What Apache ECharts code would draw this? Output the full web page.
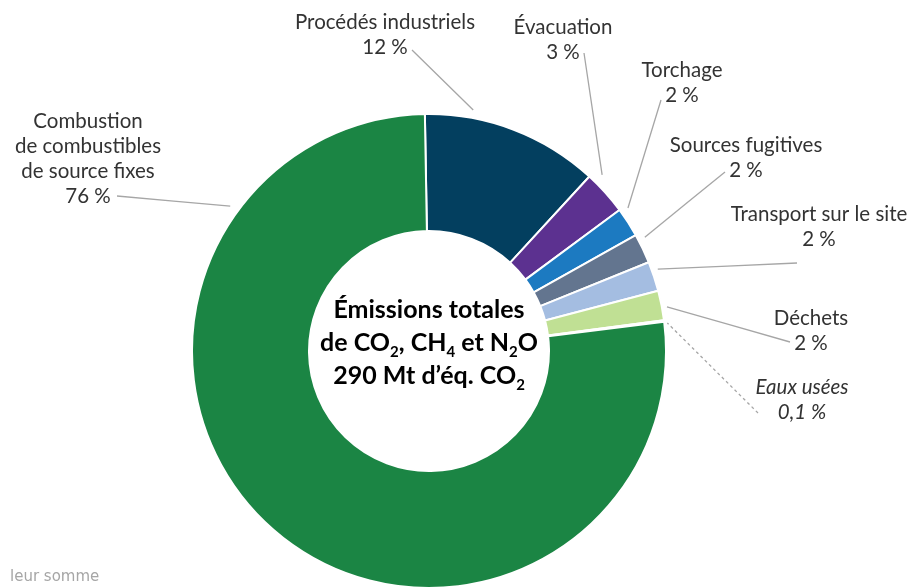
<!DOCTYPE html>
<html>
<head>
<meta charset="utf-8">
<script src="https://cdn.jsdelivr.net/npm/echarts@6/dist/echarts.min.js"></script>
<style>
  html, body { margin: 0; padding: 0; background: #ffffff; }
  #chart { width: 914px; height: 588px; }
</style>
</head>
<body>
<div id="chart"></div>
<script>
// Emission sources, clockwise from 12 o'clock
const categories = [
  'Procédés industriels',
  'Évacuation',
  'Torchage',
  'Sources fugitives',
  'Transport sur le site',
  'Déchets',
  'Eaux usées',
  'Combustion\nde combustibles\nde source fixes'
];
// Share of total emissions (%)
const shares = [12, 3, 2, 2, 2, 2, 0.1, 76];

const sliceColors = ['#033f5f', '#5c3190', '#1c7ac1', '#63758f', '#a4bde1', '#c0e094', '#8c8c8c', '#1b8544'];

// Ring geometry (px)
const CENTER = [429, 351];
const RADIUS = [120, 237];

// Label placement: block centre, leader start near the text, leader angle (deg clockwise from top) and gap off the ring
const labelSpots = [
  { x: 385, y: 35,  from: [412, 50],  angle: 10.4,  gap: 8 },
  { x: 563, y: 40,  from: [584, 53],  angle: 44.5,  gap: 10 },
  { x: 682, y: 83,  from: [661, 100], angle: 54.3,  gap: 8 },
  { x: 746, y: 158, from: [725, 172], angle: 62.2,  gap: 7 },
  { x: 819, y: 227, from: [797, 263], angle: 70.3,  gap: 6 },
  { x: 811, y: 331, from: [790, 342], angle: 79.5,  gap: 5 },
  { x: 802, y: 400, from: [758, 413], angle: 83.3,  gap: 3 },
  { x: 88,  y: 159, from: [117, 196], angle: 306.1, gap: 9 }
];

const FONT = 'Lato';

function pctText(v) {
  return String(v).replace('.', ',') + ' %';
}

const data = categories.map((name, i) => {
  const item = { name: name, value: shares[i], itemStyle: { color: sliceColors[i] } };
  if (name === 'Eaux usées') {
    item.label = { fontStyle: 'italic' };
    item.labelLine = { lineStyle: { type: [3, 3] } };
  }
  return item;
});

const chart = echarts.init(document.getElementById('chart'), null, { renderer: 'canvas' });

chart.setOption({
  backgroundColor: '#ffffff',
  animation: false,
  series: [{
    type: 'pie',
    center: CENTER,
    radius: RADIUS,
    startAngle: 91,
    clockwise: true,
    avoidLabelOverlap: false,
    silent: true,
    itemStyle: { borderColor: '#ffffff', borderWidth: 2 },
    label: {
      show: true,
      position: 'outside',
      fontFamily: FONT,
      fontSize: 20.5,
      lineHeight: 25,
      color: '#333333',
      formatter: p => p.name + '\n' + pctText(p.value)
    },
    labelLine: {
      show: true,
      length: 10,
      length2: 10,
      lineStyle: { color: '#a6a6a6', width: 1.3 }
    },
    labelLayout: function (params) {
      const s = labelSpots[params.dataIndex];
      const a = s.angle * Math.PI / 180;
      const r = RADIUS[1] + s.gap;
      const end = [CENTER[0] + r * Math.sin(a), CENTER[1] - r * Math.cos(a)];
      const mid = [(s.from[0] + end[0]) / 2, (s.from[1] + end[1]) / 2];
      return {
        x: s.x,
        y: s.y,
        align: 'center',
        verticalAlign: 'middle',
        labelLinePoints: [s.from, mid, end]
      };
    },
    data: data
  }],
  graphic: [
    {
      type: 'text',
      x: 429,
      y: 343,
      style: {
        text: '{b|Émissions totales}\n{b|de CO}{s|2}{b|, CH}{s|4}{b| et N}{s|2}{b|O}\n{b|290 Mt d’éq. CO}{s|2}',
        align: 'center',
        verticalAlign: 'middle',
        rich: {
          b: { fontFamily: FONT, fontWeight: 'bold', fontSize: 25, lineHeight: 33, fill: '#000000' },
          s: { fontFamily: FONT, fontWeight: 'bold', fontSize: 15, lineHeight: 0.5, verticalAlign: 'bottom', fill: '#000000' }
        }
      }
    },
    {
      type: 'text',
      x: 10,
      y: 577,
      style: {
        text: 'leur somme',
        fontFamily: 'DejaVu Sans',
        fontSize: 15,
        fill: '#a6a6a6',
        align: 'left',
        verticalAlign: 'middle'
      }
    }
  ]
});
</script>
</body>
</html>
